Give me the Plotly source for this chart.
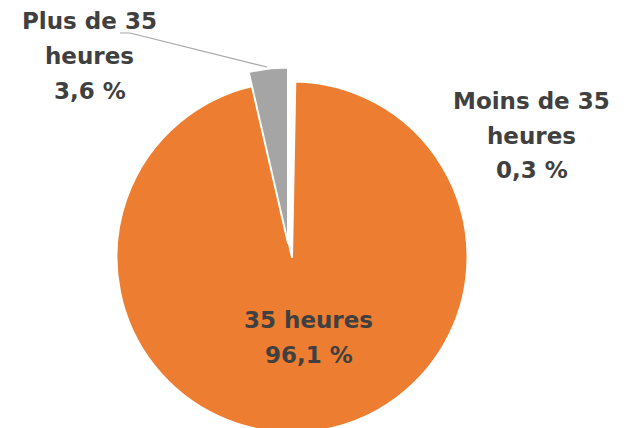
import math
import plotly.graph_objects as go

# Data
categories = ["Moins de 35 heures", "35 heures", "Plus de 35 heures"]
label_lines = [["Moins de 35", "heures"], ["35 heures"], ["Plus de 35", "heures"]]
values = [0.3, 96.1, 3.6]
value_labels = ["0,3 %", "96,1 %", "3,6 %"]

W, H = 633, 428
OFF = 8                      # page body margin offset
ORANGE = "#ED7D31"
GRAY = "#A5A5A5"
TXT = "#404040"
FONT = "DejaVu Sans"

cx, cy, r = 292 - OFF, 257 - OFF, 175.5   # main pie centre / radius (figure px)
pull_px, pull_ang = 14.5, -16              # offset of the detached slice


def domain(cx_, cy_, r_):
    return dict(x=[(cx_ - r_) / W, (cx_ + r_) / W],
                y=[(H - cy_ - r_) / H, (H - cy_ + r_) / H])


bx = cx + pull_px * math.sin(math.radians(pull_ang))
by = cy - pull_px * math.cos(math.radians(pull_ang))

fig = go.Figure()
fig.add_trace(go.Pie(
    labels=categories, values=values, sort=False, direction="clockwise", rotation=0,
    marker=dict(colors=["white", ORANGE, "rgba(0,0,0,0)"],
                line=dict(color=["white", "white", "rgba(0,0,0,0)"], width=[2, 2, 0])),
    textinfo="none", hoverinfo="label+percent", showlegend=False,
    domain=domain(cx, cy, r),
))
fig.add_trace(go.Pie(
    labels=categories, values=values, sort=False, direction="clockwise", rotation=0,
    marker=dict(colors=["rgba(0,0,0,0)", "rgba(0,0,0,0)", GRAY],
                line=dict(color=["rgba(0,0,0,0)", "rgba(0,0,0,0)", "white"], width=[0, 0, 2])),
    textinfo="none", hoverinfo="label+percent", showlegend=False,
    domain=domain(bx, by, r),
))

# label block positions (page px): x centre, first-line y centre
label_pos = {0: (531.5, 101), 1: (308.5, 320), 2: (90, 21.5)}
LINE_STEP = 34.5
annotations = []
for i, cat in enumerate(categories):
    x, y0 = label_pos[i]
    lines = label_lines[i] + [value_labels[i]]
    for k, line in enumerate(lines):
        y = y0 + k * LINE_STEP
        annotations.append(dict(
            text="<b>" + line + "</b>",
            x=(x - OFF) / W, y=1 - (y - OFF) / H, xref="paper", yref="paper",
            xanchor="center", yanchor="middle", showarrow=False,
            font=dict(family=FONT, size=23, color=TXT),
        ))

pts = [(120, 33), (130, 33), (267, 67)]
path = "M " + " L ".join(f"{(px - OFF) / W} {1 - (py - OFF) / H}" for px, py in pts)
shapes = [dict(type="path", xref="paper", yref="paper", path=path,
               line=dict(color="#A6A6A6", width=1.2))]

fig.update_layout(
    width=W, height=H, margin=dict(l=0, r=0, t=0, b=0),
    paper_bgcolor="white", plot_bgcolor="white",
    annotations=annotations, shapes=shapes,
    font=dict(family=FONT, color=TXT),
)

fig.write_html("out.html")
